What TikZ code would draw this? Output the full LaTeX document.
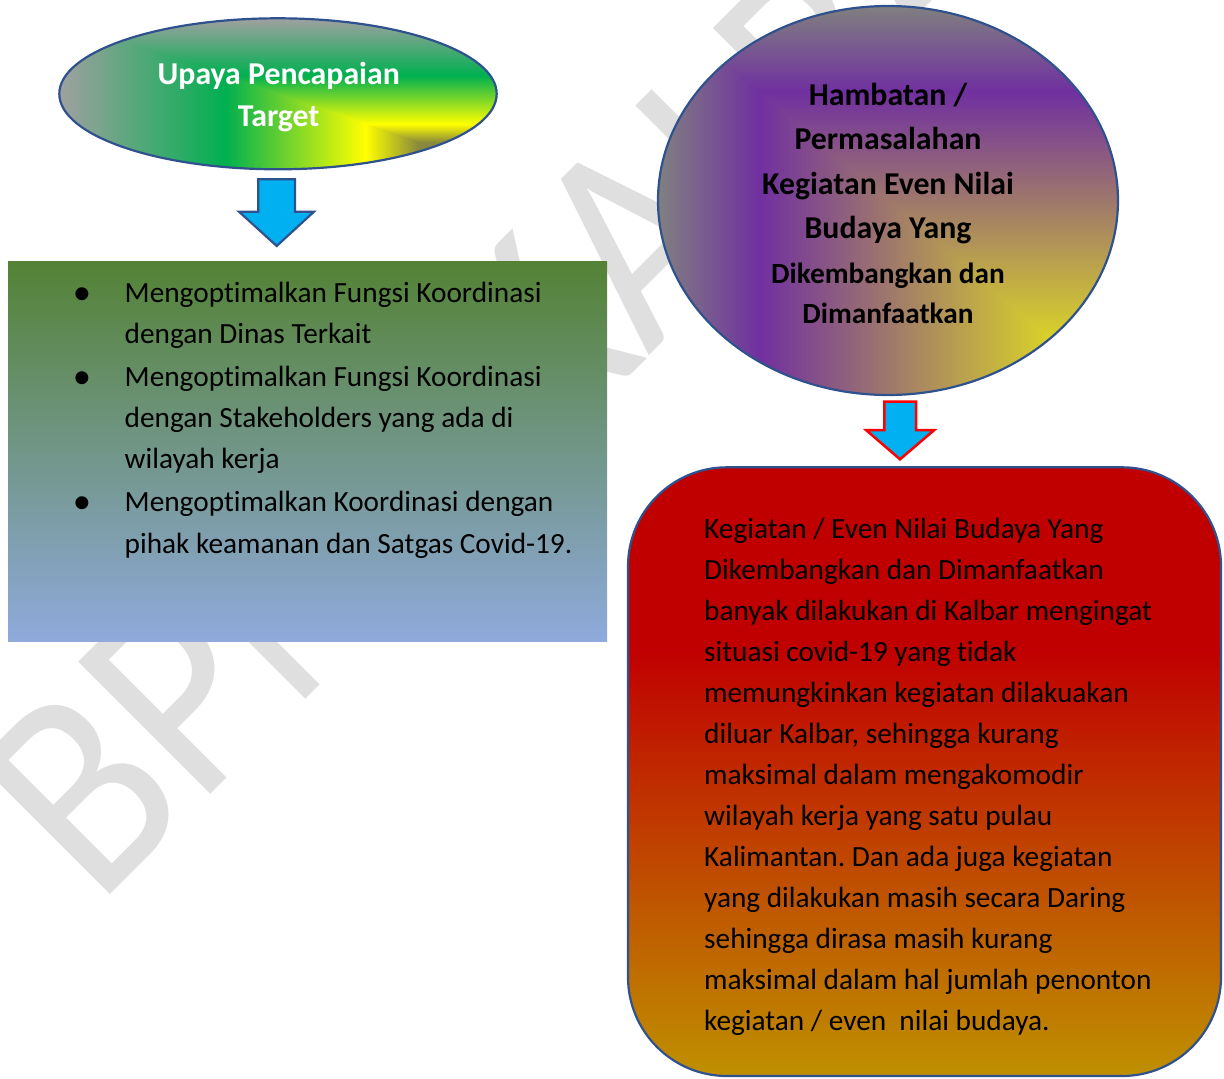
\documentclass[tikz,border=0pt]{standalone}
\usepackage{fontspec}
\setmainfont{Carlito}[Ligatures={TeX,NoCommon}]
\usetikzlibrary{shapes.geometric}

% palette
\definecolor{outline}{HTML}{2F528F}
\definecolor{arrowblue}{HTML}{00B0F0}
\definecolor{arrowred}{HTML}{FF0000}
\definecolor{wmgray}{HTML}{DFDFDF}
\definecolor{egray}{HTML}{A0A0A0}
\definecolor{egreen}{HTML}{00B050}
\definecolor{eyellow}{HTML}{FFFF00}
\definecolor{eolive}{HTML}{8A8A3C}
\definecolor{ecorner}{HTML}{707070}
\definecolor{cgray}{HTML}{808080}
\definecolor{cpurple}{HTML}{7030A0}
\definecolor{cyellow}{HTML}{D9D12A}
\definecolor{ccorner}{HTML}{E6DC1E}
\definecolor{gtop}{HTML}{548235}
\definecolor{gbottom}{HTML}{8FAADC}
\definecolor{pred}{HTML}{C00000}
\definecolor{pgold}{HTML}{BF9000}

% corner gradients: one axis shading per half of the bounding box
\pgfdeclarehorizontalshading{goalH}{100bp}{color(0bp)=(egray); color(25bp)=(egray); color(44bp)=(egreen); color(60bp)=(eyellow); color(66bp)=(eolive); color(75bp)=(ecorner); color(100bp)=(ecorner)}
\pgfdeclareverticalshading{goalV}{100bp}{color(0bp)=(ecorner); color(25bp)=(ecorner); color(34bp)=(eolive); color(40bp)=(eyellow); color(56bp)=(egreen); color(75bp)=(egray); color(100bp)=(egray)}
\pgfdeclarehorizontalshading{obstH}{100bp}{color(0bp)=(cgray); color(25bp)=(cgray); color(36bp)=(cpurple); color(67.5bp)=(cyellow); color(75bp)=(ccorner); color(100bp)=(ccorner)}
\pgfdeclareverticalshading{obstV}{100bp}{color(0bp)=(ccorner); color(25bp)=(ccorner); color(32.5bp)=(cyellow); color(64bp)=(cpurple); color(75bp)=(cgray); color(100bp)=(cgray)}
\pgfdeclareverticalshading{probV}{100bp}{color(0bp)=(pgold); color(25bp)=(pgold); color(60bp)=(pred); color(100bp)=(pred)}

% stacked lines whose baseline is the first line's baseline
\newcommand\centerlines[1]{\vtop{\halign{\hfil##\hfil\cr#1\crcr}}}
\newcommand\leftlines[1]{\vtop{\halign{##\hfil\cr#1\crcr}}}
\newcommand\bulletlines[1]{\vtop{\halign{\hbox to 85.4pt{\hss##\hss}&##\hfil\cr#1\crcr}}}
\newcommand\itemdot{\raisebox{-2pt}{\scalebox{1.25}{\textbullet}}}

\tikzset{
  blockarrow/.style={fill=arrowblue, line width=2.2pt, line join=miter},
  bodytext/.style={inner sep=0pt, font=\fontsize{29.3}{41.3}\selectfont},
  titletext/.style={inner sep=0pt, font=\bfseries\fontsize{31.8}{44.5}\selectfont},
  outlined/.style={draw=outline, line width=2.2pt},
}

\begin{document}
\frenchspacing
\begin{tikzpicture}[x=1pt,y=-1pt]
\useasboundingbox (0,0) rectangle (1224,1079);

% watermark
\node[anchor=base west, rotate=45, inner sep=0pt, text=wmgray,
      font=\fontsize{260}{260}\selectfont] (mark) at (97.6,908) {\scalebox{1}[1.12]{BPNB KALBAR}};

% ---- left column ----
\begin{scope}
  \clip (278,93.8) ellipse [x radius=218.7, y radius=75.5];
  \shade[shading=goalH] (59.3,18.3) rectangle (496.7,169.3);
  \clip (59.3,18.3) -- (496.7,18.3) -- (496.7,169.3) -- cycle;
  \shade[shading=goalV] (59.3,18.3) rectangle (496.7,169.3);
\end{scope}
\node[ellipse, outlined, minimum width=437.4pt, minimum height=151pt, inner sep=0pt] (goal) at (278,93.8) {};
\node[titletext, text=white, anchor=base, font=\bfseries\fontsize{31.8}{42.7}\selectfont] (goaltext) at (278.7,84)
  {\centerlines{Upaya Pencapaian\cr Target}};

\draw[blockarrow, draw=outline] (258.3,179.3) -- (295,179.3) -- (295,211.7) -- (314,211.7)
  -- (276.7,246) -- (239,211.7) -- (258.3,211.7) -- cycle;

\node[rectangle, minimum width=599pt, minimum height=380pt, inner sep=0pt,
      top color=gtop, bottom color=gbottom] (measures) at (307.5,451.7) {};
\node[bodytext, anchor=base west] (measurestext) at (39.1,302)
  {\bulletlines{\itemdot & Mengoptimalkan Fungsi Koordinasi\cr
   & dengan Dinas Terkait\cr\noalign{\vskip1.7pt}
   \itemdot & Mengoptimalkan Fungsi Koordinasi\cr
   & dengan Stakeholders yang ada di\cr
   & wilayah kerja\cr\noalign{\vskip1.7pt}
   \itemdot & Mengoptimalkan Koordinasi dengan\cr
   & pihak keamanan dan Satgas Covid-19.}};

% ---- right column ----
\begin{scope}
  \clip (888,200.5) ellipse [x radius=230, y radius=194.5];
  \shade[shading=obstH] (658,6) rectangle (1118,395);
  \clip (658,6) -- (1118,6) -- (1118,395) -- cycle;
  \shade[shading=obstV] (658,6) rectangle (1118,395);
\end{scope}
\node[ellipse, outlined, minimum width=460pt, minimum height=389pt, inner sep=0pt] (obstacle) at (888,200.5) {};
\node[titletext, anchor=base] (obstacletext) at (888,105)
  {\centerlines{Hambatan /\cr Permasalahan\cr Kegiatan Even Nilai\cr Budaya Yang\cr
   \fontsize{29.3}{41}\selectfont Dikembangkan dan\cr\noalign{\vskip-4.5pt}
   \fontsize{29.3}{41}\selectfont Dimanfaatkan}};

\draw[blockarrow, draw=arrowred, line width=2.5pt] (884.3,401.7) -- (916,401.7) -- (916,430) -- (934.3,430)
  -- (900,459.3) -- (866,430) -- (884.3,430) -- cycle;

\node[rectangle, rounded corners=99pt, outlined, shade, shading=probV,
      minimum width=593pt, minimum height=608.7pt, inner sep=0pt] (problem) at (924.5,771.65) {};
\node[bodytext, anchor=base west, font=\fontsize{29.3}{41.08}\selectfont] (problemtext) at (704,538)
  {\leftlines{Kegiatan / Even Nilai Budaya Yang\cr
   Dikembangkan dan Dimanfaatkan\cr
   banyak dilakukan di Kalbar mengingat\cr
   situasi covid-19 yang tidak\cr
   memungkinkan kegiatan dilakuakan\cr
   diluar Kalbar, sehingga kurang\cr
   maksimal dalam mengakomodir\cr
   wilayah kerja yang satu pulau\cr
   Kalimantan. Dan ada juga kegiatan\cr
   yang dilakukan masih secara Daring\cr
   sehingga dirasa masih kurang\cr
   maksimal dalam hal jumlah penonton\cr
   kegiatan / even\ \ nilai budaya.}};
\end{tikzpicture}
\end{document}
